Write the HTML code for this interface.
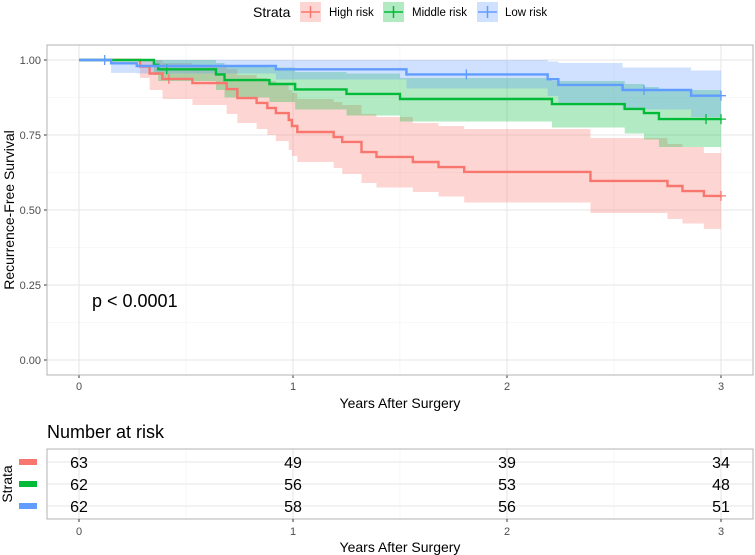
<!DOCTYPE html>
<html><head><meta charset="utf-8"><style>
body{margin:0;background:#fff;}
svg{display:block;font-family:"Liberation Sans",Arial,sans-serif;}
</style></head><body>
<svg id="chart" width="755" height="555" viewBox="0 0 755 555"></svg>
<script>
// ----- data -----
const strata = ["High risk","Middle risk","Low risk"];
const colors = ["#F8766D","#00BA38","#619CFF"];
const highT  = [0,0.285,0.33,0.39,0.53,0.69,0.74,0.83,0.88,0.92,0.98,0.995,1.02,1.19,1.23,1.32,1.39,1.56,1.68,1.80,2.39,2.75,2.82,2.92];
const highS  = [1,0.978,0.955,0.937,0.923,0.903,0.873,0.857,0.84,0.823,0.80,0.78,0.76,0.743,0.727,0.693,0.677,0.66,0.643,0.627,0.597,0.58,0.563,0.547];
const highHi = [1,1,1,0.99,0.98,0.97,0.95,0.94,0.93,0.92,0.90,0.89,0.87,0.86,0.85,0.82,0.81,0.79,0.78,0.77,0.74,0.72,0.71,0.69];
const highLo = [1,0.94,0.90,0.87,0.85,0.82,0.79,0.77,0.75,0.73,0.70,0.68,0.66,0.64,0.62,0.59,0.575,0.56,0.545,0.525,0.49,0.47,0.455,0.437];
const highCens = [0.42,3.0];
const midT  = [0,0.35,0.37,0.64,0.68,0.89,1.01,1.25,1.50,2.21,2.55,2.64,2.71];
const midS  = [1,0.984,0.969,0.952,0.933,0.92,0.902,0.887,0.87,0.853,0.837,0.823,0.803];
const midHi = [1,1,1,0.99,0.98,0.975,0.96,0.955,0.94,0.93,0.92,0.91,0.90];
const midLo = [1,0.95,0.93,0.90,0.875,0.86,0.835,0.815,0.795,0.775,0.755,0.735,0.71];
const midCens = [0.41,2.93,3.0];
const lowT  = [0,0.15,0.27,0.92,1.53,2.19,2.24,2.54,2.86];
const lowS  = [1,0.989,0.98,0.969,0.952,0.936,0.917,0.90,0.881];
const lowHi = [1,1,1,1,1,0.995,0.99,0.975,0.965];
const lowLo = [1,0.957,0.955,0.935,0.905,0.88,0.855,0.835,0.81];
const lowCens = [0.12,1.81,2.64,3.0];
const riskTimes = [0,1,2,3];
const riskHigh = [63,49,39,34];
const riskMid  = [62,56,53,48];
const riskLow  = [62,58,56,51];
const xTicks = [0,1,2,3];
const yTicks = [0,0.25,0.5,0.75,1];
const yTickLabels = ["0.00","0.25","0.50","0.75","1.00"];

// ----- scales -----
const X = t => 79 + t*214;
const Y = v => 360 - v*300;
const TEND = 3.0;
const NS = "http://www.w3.org/2000/svg";
const svg = document.getElementById('chart');
function mk(tag, attrs, parent){const e=document.createElementNS(NS,tag);for(const k in attrs)e.setAttribute(k,attrs[k]);(parent||svg).appendChild(e);return e;}

// main panel
const panel = mk('g',{});


mk('rect',{x:47,y:45,width:706,height:330,fill:'#fff'},panel);
// minor grid
[0.125,0.375,0.625,0.875].forEach(v=>mk('line',{x1:47,x2:753,y1:Y(v),y2:Y(v),stroke:'#f1f1f1','stroke-width':0.6},panel));
[0.5,1.5,2.5].forEach(t=>mk('line',{x1:X(t),x2:X(t),y1:45,y2:375,stroke:'#f1f1f1','stroke-width':0.6},panel));
yTicks.forEach((v,i)=>{
  const g=mk('line',{x1:47,x2:753,y1:Y(v),y2:Y(v),stroke:'#e6e6e6','stroke-width':1},panel);
  
  mk('line',{x1:44,x2:47,y1:Y(v),y2:Y(v),stroke:'#333','stroke-width':1});
  const tx=mk('text',{x:41,y:Y(v)+4,'text-anchor':'end','font-size':11,fill:'#4d4d4d'});
  tx.textContent=yTickLabels[i];
  
  
});
xTicks.forEach(t=>{
  mk('line',{x1:X(t),x2:X(t),y1:45,y2:375,stroke:'#e6e6e6','stroke-width':1},panel);
  mk('line',{x1:X(t),x2:X(t),y1:375,y2:378,stroke:'#333'});
  const tx=mk('text',{x:X(t),y:390,'text-anchor':'middle','font-size':11,fill:'#4d4d4d'});
  tx.textContent=t;
  
  
});

function stepPath(T,S){
  let d=`M${X(T[0])},${Y(S[0])}`;
  for(let i=1;i<T.length;i++){d+=`H${X(T[i])}V${Y(S[i])}`;}
  d+=`H${X(TEND)}`;return d;
}
function bandPath(T,HI,LO){
  let d=`M${X(T[0])},${Y(HI[0])}`;
  for(let i=1;i<T.length;i++){d+=`H${X(T[i])}V${Y(HI[i])}`;}
  d+=`H${X(TEND)}V${Y(LO[LO.length-1])}`;
  for(let i=T.length-1;i>0;i--){d+=`H${X(T[i])}V${Y(LO[i-1])}`;}
  d+=`H${X(T[0])}Z`;return d;
}
const series=[[highT,highS,highHi,highLo,highCens],[midT,midS,midHi,midLo,midCens],[lowT,lowS,lowHi,lowLo,lowCens]];
const names=['high-risk','middle-risk','low-risk'];
series.forEach((s,i)=>{
  const b=mk('path',{d:bandPath(s[0],s[2],s[3]),fill:colors[i],'fill-opacity':0.3,stroke:'none'});
  
  
});
series.forEach((s,i)=>{
  const l=mk('path',{d:stepPath(s[0],s[1]),fill:'none',stroke:colors[i],'stroke-width':2.4});
  
  
  s[4].forEach(c=>{
    let v=s[1][0];for(let k=0;k<s[0].length;k++){if(s[0][k]<=c)v=s[1][k];}
    const m=mk('path',{d:`M${X(c)-5},${Y(v)}H${X(c)+5}M${X(c)},${Y(v)-5}V${Y(v)+5}`,stroke:colors[i],'stroke-width':1.3});
    
    
  });
});
mk('rect',{x:47,y:45,width:706,height:330,fill:'none',stroke:'#b3b3b3','stroke-width':1});

// risk table
const rt=mk('g',{});


const rowY=[462,484,506];
rowY.forEach(y=>mk('line',{x1:47,x2:753,y1:y,y2:y,stroke:'#e6e6e6'},rt));
[0,1,2,3].forEach(t=>mk('line',{x1:X(t),x2:X(t),y1:449,y2:519,stroke:'#e6e6e6'},rt));
[0.5,1.5,2.5].forEach(t=>mk('line',{x1:X(t),x2:X(t),y1:449,y2:519,stroke:'#f1f1f1','stroke-width':0.6},rt));
mk('rect',{x:47,y:449,width:706,height:70,fill:'none',stroke:'#b3b3b3'},rt);
[riskHigh,riskMid,riskLow].forEach((r,i)=>{
  mk('rect',{x:19,y:rowY[i]-3,width:18,height:6,fill:colors[i]});
  riskTimes.forEach((t,j)=>{
    const tx=mk('text',{x:X(t),y:rowY[i]+6,'text-anchor':'middle','font-size':16,fill:'#000'},rt);
    tx.textContent=r[j];
    
    
  });
});
xTicks.forEach(t=>{
  mk('line',{x1:X(t),x2:X(t),y1:519,y2:522,stroke:'#333'});
  const tx=mk('text',{x:X(t),y:535,'text-anchor':'middle','font-size':11,fill:'#4d4d4d'});
  tx.textContent=t;
  
  
});
</script>
<svg width="0" height="0" style="position:absolute"></svg>
<script>
const s2=document.getElementById('chart');
s2.insertAdjacentHTML('beforeend',`
<text x="14" y="210" transform="rotate(-90 14 210)" text-anchor="middle" font-size="14" fill="#000">Recurrence-Free Survival</text>
<text x="400" y="408" text-anchor="middle" font-size="14" fill="#000">Years After Surgery</text>
<text x="92" y="307" font-size="18" fill="#000">p &lt; 0.0001</text>
<text x="47" y="438" font-size="18" fill="#000">Number at risk</text>
<text x="12" y="484" transform="rotate(-90 12 484)" text-anchor="middle" font-size="14" fill="#000">Strata</text>
<text x="400" y="552" text-anchor="middle" font-size="14" fill="#000">Years After Surgery</text>
<g>
<text x="253" y="17" font-size="14" fill="#000">Strata</text>
<g><rect x="300" y="2" width="21" height="20" fill="#F8766D" fill-opacity="0.3"/><path d="M301,12H320M310.5,6V18" stroke="#F8766D" stroke-width="1.5"/><text x="329" y="16" font-size="11.5" fill="#000">High risk</text></g>
<g><rect x="383" y="2" width="21" height="20" fill="#00BA38" fill-opacity="0.3"/><path d="M384,12H403M393.5,6V18" stroke="#00BA38" stroke-width="1.5"/><text x="412" y="16" font-size="11.5" fill="#000">Middle risk</text></g>
<g><rect x="477" y="2" width="21" height="20" fill="#619CFF" fill-opacity="0.3"/><path d="M478,12H497M487.5,6V18" stroke="#619CFF" stroke-width="1.5"/><text x="505" y="16" font-size="11.5" fill="#000">Low risk</text></g>
</g>`);
</script>
</body></html>
